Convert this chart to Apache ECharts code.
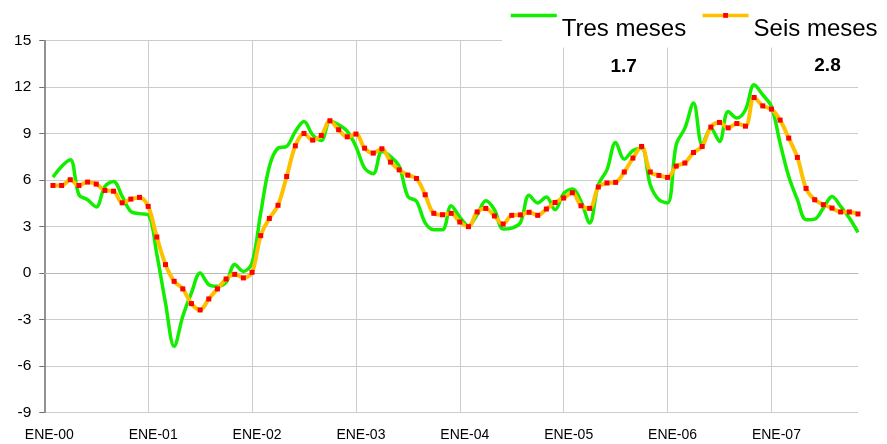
<!DOCTYPE html>
<html>
<head>
<meta charset="utf-8">
<script src="https://cdn.jsdelivr.net/npm/echarts@6/dist/echarts.min.js"></script>
<style>
html,body{margin:0;padding:0;background:#fff;}
#c{width:887px;height:444px;}
</style>
</head>
<body>
<div id="c"></div>
<script>
// Years and months used to build the monthly categories (ENE-00 ... NOV-07)
const years = ['00','01','02','03','04','05','06','07'];
const months = ['ENE','FEB','MAR','ABR','MAY','JUN','JUL','AGO','SEP','OCT','NOV','DIC'];
const xTickLabels = ['ENE-00','ENE-01','ENE-02','ENE-03','ENE-04','ENE-05','ENE-06','ENE-07'];
const seriesNames = ['Tres meses','Seis meses'];
const annotations = ['1.7','2.8'];
const yTicks = {min:-9, max:15, step:3};

// Tres meses (Feb-00 .. Nov-07)
const tresMeses = [6.19, 6.88, 7.31, 5.05, 4.73, 4.26, 5.59, 5.91, 4.94, 3.97, 3.83, 3.76,
  1.2, -1.94, -4.74, -2.8, -1.29, 0.0, -0.75, -0.86, -0.6, 0.54, 0.1, 0.65,
  3.87, 6.88, 8.06, 8.17, 9.14, 9.78, 8.92, 8.56, 9.78, 9.57, 9.14, 8.17,
  6.77, 6.41, 7.85, 7.52, 6.88, 4.94, 4.62, 3.23, 2.79, 2.79, 4.34, 3.61,
  3.05, 3.76, 4.66, 4.08, 2.84, 2.9, 3.25, 5.02, 4.52, 4.9, 4.08, 5.12,
  5.42, 4.62, 3.23, 5.7, 6.66, 8.43, 7.35, 7.91, 8.06, 5.7, 4.73, 4.52,
  8.28, 9.35, 10.97, 8.28, 9.35, 8.49, 10.43, 10.0, 10.54, 12.15, 11.5, 10.75,
  8.39, 6.23, 4.73, 3.44, 3.48, 4.19, 4.94, 4.30, 3.55, 2.62];

// Seis meses (Feb-00 .. Nov-07)
const seisMeses = [5.65, 5.65, 6.02, 5.65, 5.87, 5.74, 5.33, 5.28, 4.53, 4.77, 4.88, 4.30,
  2.32, 0.54, -0.54, -1.03, -1.98, -2.39, -1.68, -1.03, -0.39, -0.09, -0.32, 0.04,
  2.41, 3.52, 4.37, 6.23, 8.21, 9.01, 8.58, 8.88, 9.83, 9.25, 8.79, 8.97,
  8.06, 7.74, 8.02, 7.16, 6.66, 6.32, 6.10, 5.05, 3.85, 3.76, 3.85, 3.29,
  2.99, 3.94, 4.17, 3.68, 3.16, 3.72, 3.75, 3.92, 3.72, 4.13, 4.55, 4.84,
  5.18, 4.34, 4.17, 5.55, 5.81, 5.85, 6.52, 7.42, 8.17, 6.52, 6.30, 6.17,
  6.90, 7.10, 7.78, 8.17, 9.42, 9.72, 9.37, 9.65, 9.48, 11.33, 10.79, 10.58,
  9.87, 8.71, 7.46, 5.46, 4.73, 4.41, 4.19, 3.94, 3.94, 3.81];

const categories = [];
years.forEach(y => months.forEach(m => categories.push(m + '-' + y)));
const nCat = 1 + tresMeses.length; // first category (ENE-00) has no data
const cats = categories.slice(0, nCat);
const tresData = [null].concat(tresMeses);
const seisData = [null].concat(seisMeses);

const FONT = '"Liberation Sans", Arial, sans-serif';
const chart = echarts.init(document.getElementById('c'), null, {renderer:'canvas'});
chart.setOption({
  animation: false,
  backgroundColor: '#ffffff',
  grid: {left: 44.3, right: 29, top: 40.7, bottom: 31.7, containLabel: false, outerBoundsMode: 'none'},
  legend: {
    data: [
      {name: seriesNames[0], itemStyle: {opacity: 0}, lineStyle: {width: 3.5, color: '#11ee00'}},
      {name: seriesNames[1], lineStyle: {width: 3.5, color: '#ffc000'}}
    ],
    left: 502, top: 13,
    width: 420,
    padding: [0, 12, 6, 7],
    itemWidth: 46, itemHeight: 6, itemGap: 14.6,
    backgroundColor: '#ffffff',
    selectedMode: false,
    formatter: function (name) { return '{t|' + name + '}'; },
    textStyle: {fontSize: 24, color: '#000', fontFamily: FONT,
      rich: {t: {fontSize: 24, color: '#000', fontFamily: FONT, padding: [28, 0, 0, 0]}}}
  },
  xAxis: {
    type: 'category',
    data: cats,
    boundaryGap: false,
    axisLine: {show: true, lineStyle: {color: '#b8b8b8', width: 1}},
    axisTick: {show: false},
    axisLabel: {
      interval: function (i) { return i % 12 === 0; },
      formatter: function (v, i) { return xTickLabels[Math.floor(i / 12)] || ''; },
      fontSize: 14, color: '#000', fontFamily: FONT, margin: 16,
      padding: [0, 0, 0, 10]
    },
    splitLine: {show: true, interval: function (i) { return i % 12 === 0 && i > 0; },
      lineStyle: {color: '#cccccc', width: 1}}
  },
  yAxis: {
    type: 'value',
    min: yTicks.min, max: yTicks.max, interval: yTicks.step,
    axisLine: {show: true, lineStyle: {color: '#6e6e6e', width: 1.5}},
    axisTick: {show: true, length: 5, lineStyle: {color: '#6e6e6e', width: 1}},
    axisLabel: {fontSize: 15.5, color: '#000', fontFamily: FONT, margin: 13},
    splitLine: {show: true, lineStyle: {color: '#cccccc', width: 1}}
  },
  series: [
    {
      name: seriesNames[0], type: 'line', data: tresData,
      smooth: 0.35, symbol: 'none', connectNulls: false,
      lineStyle: {color: '#11ee00', width: 3.5},
      itemStyle: {color: '#11ee00'},
      z: 2
    },
    {
      name: seriesNames[1], type: 'line', data: seisData,
      smooth: 0.35, symbol: 'rect', symbolSize: 5, showSymbol: true, showAllSymbol: true,
      lineStyle: {color: '#ffc000', width: 4},
      itemStyle: {color: '#ff0000'},
      z: 3
    }
  ],
  graphic: [
    {type: 'text', x: 623.7, y: 66.7, z: 10,
      style: {text: annotations[0], fontSize: 19, fontWeight: 'bold', fontFamily: FONT, fill: '#000', align: 'center', verticalAlign: 'middle'}},
    {type: 'text', x: 827.5, y: 65.5, z: 10,
      style: {text: annotations[1], fontSize: 19, fontWeight: 'bold', fontFamily: FONT, fill: '#000', align: 'center', verticalAlign: 'middle'}}
  ]
});
</script>
</body>
</html>
